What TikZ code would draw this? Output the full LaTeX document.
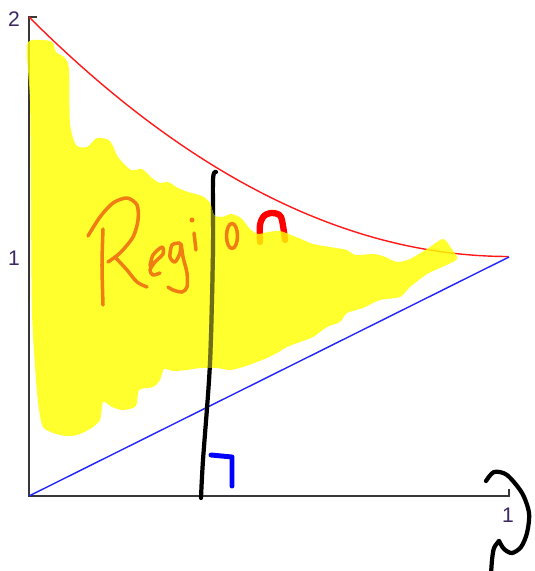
\documentclass[tikz,border=0pt]{standalone}
\usepackage{fontspec}
\setmainfont{Liberation Sans}
\usepackage{tikz}
\definecolor{axisgray}{RGB}{55,55,55}
\definecolor{ticklabel}{RGB}{60,40,100}
\definecolor{curvered}{RGB}{255,25,25}
\definecolor{lineblue}{RGB}{35,35,255}
\definecolor{marker}{RGB}{255,255,0}
\definecolor{inkorange}{RGB}{240,125,20}
\definecolor{inkolive}{RGB}{110,110,25}
\def\regionpts{
    (27,45) (40,40) (52,42) (56,52) (65,58) (69,70) (70,123) (76,145) (87,147) (97,138)
    (110,141) (118,157) (131,170) (142,169) (152,178) (160,183) (168,182) (178,188)
    (188,192) (202,196) (210,203) (214,215) (222,217) (231,214) (241,218) (250,229)
    (258,234) (268,232) (280,231) (291,235) (301,239) (313,244) (330,247) (347,250)
    (355,255) (373,254) (383,256) (397,262) (410,259) (427,249) (443,239) (451,248)
    (457,259) (440,268) (427,274) (410,287) (400,297) (380,300) (363,308) (347,313)
    (340,322) (327,327) (313,337) (300,342) (287,347) (277,353) (267,358) (257,362)
    (243,367) (230,370) (217,368) (200,368) (187,370) (173,371) (164,369) (160,380)
    (153,387) (139,390) (136,406) (123,410) (112,407) (103,402) (100,420) (90,429)
    (77,435) (66,436) (53,433) (43,427) (39,410) (36,380) (32,313) (31,200) (30,100)}
\def\cutpts{(216,172) (213,180) (213,250) (210,363) (203,460) (201,498)}

\begin{document}
\begin{tikzpicture}[x=0.2mm, y=-0.2mm,
   axis/.style={draw=axisgray, line width=1.1pt},
   lbl/.style={font=\fontsize{12}{14}\selectfont, text=ticklabel, inner sep=0pt},
   redc/.style={draw=curvered, line width=0.8pt},
   bluec/.style={draw=lineblue, line width=0.8pt},
   pen/.style={line width=2.4pt, line cap=round, line join=round},
   orpen/.style={pen, draw=inkorange, line width=2pt},
   hilite/.style={fill=marker, fill opacity=0.82, draw=none}]
  \useasboundingbox (0,0) rectangle (534,571);
  \coordinate (O) at (29,496);
  \coordinate (ytop) at (29,17);
  \coordinate (xend) at (509,496);
  \coordinate (corner) at (509,257);

  \draw[axis] (37,17) -- (ytop) -- (O) -- (xend) -- (509,489);
  \node[lbl] (ytwo) at (14,19) {2};
  \node[lbl] (yone) at (14,258) {1};
  \node[lbl] (xone) at (508,515) {1};

  \draw[redc] plot[domain=0:1, samples=80] ({29+480*\x}, {496-239.5*(1+(1-\x)^2)});
  \draw[bluec] (O) -- (corner);

  \draw[pen] plot[smooth] coordinates {\cutpts};
  \draw[pen, draw=red, line width=3.6pt] plot[smooth] coordinates {(260,242) (260,225) (264,216)
    (272,213) (281,217) (285,240)};

  \fill[hilite] plot[smooth cycle, tension=0.45] coordinates {\regionpts};
  \begin{scope}
    \clip plot[smooth cycle, tension=0.45] coordinates {\regionpts};
    \draw[pen, draw=inkolive] plot[smooth] coordinates {\cutpts};
  \end{scope}

  \draw[orpen] plot[smooth] coordinates {(103,229) (102,265) (103,305)};
  \draw[orpen] plot[smooth] coordinates {(88,236) (100,217) (113,203) (127,198) (137,205)
    (138,220) (133,237) (120,253) (108,262)};
  \draw[orpen] plot[smooth] coordinates {(115,257) (127,270) (137,282) (147,287)};
  \draw[orpen] plot[smooth] coordinates {(150,266) (153,255) (162,247) (163,254) (155,262)
    (150,270) (153,275) (160,273)};
  \draw[orpen] plot[smooth] coordinates {(180,243) (172,245) (170,257) (175,262) (180,253)
    (181,244) (183,257) (187,273) (187,287) (182,292) (173,290) (168,287)};
  \draw[orpen] (194,233) -- (196,250);
  \fill[inkorange] (192,220) circle[radius=0.5mm];
  \draw[orpen] (232,236) ellipse[x radius=1.1mm, y radius=2.5mm];

  \draw[pen, draw=blue, line width=2.8pt] (211,455) -- (232,457) -- (232,486);

  \draw[pen] plot[smooth] coordinates {(486,481) (494,472) (507,475) (522,493) (529,513)
    (527,533) (521,547) (512,553) (504,549) (499,541)};
  \draw[pen] plot[smooth] coordinates {(499,541) (494,548) (492,560) (491,575)};
\end{tikzpicture}
\end{document}
